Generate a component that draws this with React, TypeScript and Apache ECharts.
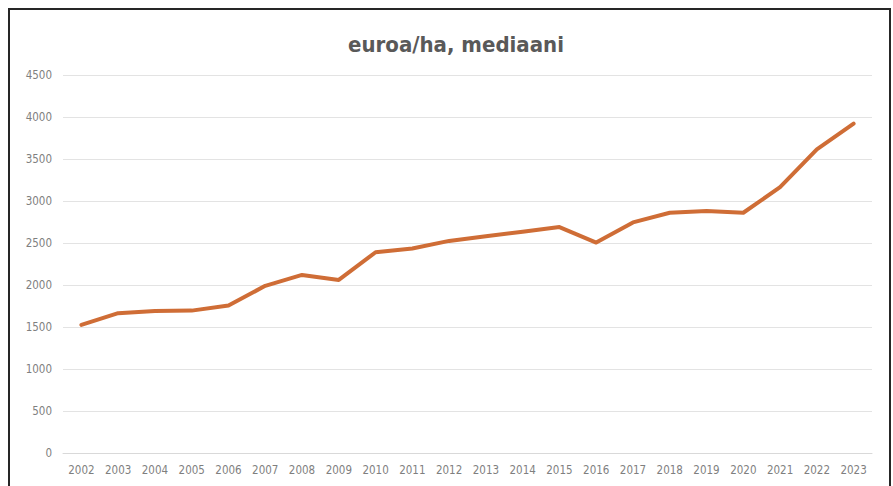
import React, { useEffect, useRef } from "react";
import * as echarts from "echarts";

const years = ["2002","2003","2004","2005","2006","2007","2008","2009","2010","2011","2012","2013","2014","2015","2016","2017","2018","2019","2020","2021","2022","2023"];
const medianValues = [1525, 1665, 1690, 1695, 1755, 1990, 2120, 2060, 2390, 2435, 2525, 2580, 2635, 2690, 2505, 2745, 2860, 2880, 2860, 3165, 3615, 3920];
const yMin = 0;
const yMax = 4500;
const yStep = 500;

const labelFont = "'Liberation Sans Narrow', 'DejaVu Sans Condensed', sans-serif";

export default function App() {
  const ref = useRef<HTMLDivElement>(null);
  useEffect(() => {
    if (!ref.current) return;
    const chart = echarts.init(ref.current, undefined, { renderer: "svg" });
    chart.setOption({
      animation: false,
      backgroundColor: "#ffffff",
      title: {
        text: "euroa/ha, mediaani",
        left: 451,
        top: 28,
        textAlign: "center",
        textStyle: {
          fontFamily: "'Liberation Sans Narrow', 'DejaVu Sans Condensed', 'Roboto Condensed', sans-serif",
          fontWeight: "bold",
          fontSize: 22,
          color: "#595959",
        },
      },
      grid: { left: 63, right: 21, top: 75, bottom: 33, containLabel: false },
      xAxis: {
        type: "category",
        data: years,
        boundaryGap: true,
        axisLine: { show: true, lineStyle: { color: "#d9d9d9", width: 1 } },
        axisTick: { show: false },
        axisLabel: {
          color: "#7f7f7f",
          fontSize: 11.5,
          fontFamily: labelFont,
          margin: 11,
          interval: 0,
        },
      },
      yAxis: {
        type: "value",
        min: yMin,
        max: yMax,
        interval: yStep,
        axisLine: { show: false },
        axisTick: { show: false },
        splitLine: { lineStyle: { color: "#e3e3e3", width: 1 } },
        axisLabel: {
          color: "#7f7f7f",
          fontSize: 11.5,
          fontFamily: labelFont,
          margin: 11,
          formatter: (v: number) => String(v),
        },
      },
      series: [
        {
          type: "line",
          data: medianValues,
          showSymbol: false,
          symbol: "none",
          lineStyle: { color: "#cf6d36", width: 4, cap: "round", join: "round" },
          itemStyle: { color: "#cf6d36" },
        },
      ],
    });
    return () => chart.dispose();
  }, []);
  return (
    <div style={{ position: "fixed", left: 0, top: 0, width: 893, height: 486, overflow: "hidden", background: "#fff" }}>
      <div ref={ref} style={{ position: "absolute", left: 0, top: 0, width: 893, height: 486 }} />
      <div
        style={{
          position: "absolute",
          left: 8,
          top: 8,
          width: 879,
          height: 520,
          border: "2px solid #262626",
          pointerEvents: "none",
        }}
      />
    </div>
  );
}
